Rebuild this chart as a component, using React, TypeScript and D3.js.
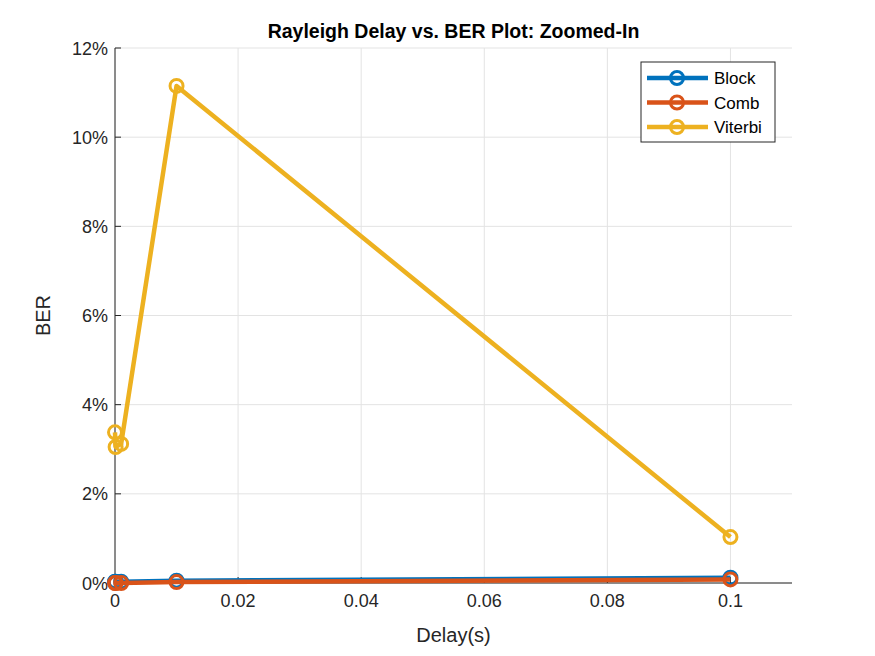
import React from "react";
import * as d3 from "d3";

const delays = [0, 0.0001, 0.001, 0.01, 0.1];
const blockBER = [0.03, 0.03, 0.03, 0.05, 0.12];
const combBER = [0.0, 0.0, 0.0, 0.02, 0.08];
const viterbiBER = [3.38, 3.05, 3.12, 11.15, 1.03];
const xTicks = [0, 0.02, 0.04, 0.06, 0.08, 0.1];
const yTicks = [0, 2, 4, 6, 8, 10, 12];
const series = [
  { name: "Block", values: blockBER, color: "#0072BD" },
  { name: "Comb", values: combBER, color: "#D95319" },
  { name: "Viterbi", values: viterbiBER, color: "#EDB120" },
];

export default function App() {
  const W = 875, H = 656;
  const L = 115, R = 792, T = 48, B = 583;
  const x = d3.scaleLinear().domain([0, 0.11]).range([L, R]);
  const y = d3.scaleLinear().domain([0, 12]).range([B, T]);
  const line = d3.line<number>().x((_, i) => x(delays[i])).y((v) => y(v));
  const font = "Liberation Sans, Arial, sans-serif";
  return (
    <svg width={W} height={H} style={{ position: "absolute", left: 0, top: 0, background: "#fff" }} fontFamily={font}>
      {xTicks.map((t) => (
        <line key={"gx" + t} x1={x(t)} x2={x(t)} y1={T} y2={B} stroke="#e3e3e3" strokeWidth={1} />
      ))}
      {yTicks.map((t) => (
        <line key={"gy" + t} x1={L} x2={R} y1={y(t)} y2={y(t)} stroke="#e3e3e3" strokeWidth={1} />
      ))}
      <line x1={L} x2={R} y1={B} y2={B} stroke="#262626" />
      <line x1={L} x2={L} y1={T} y2={B} stroke="#262626" />
      {xTicks.map((t) => (
        <g key={"tx" + t}>
          <line x1={x(t)} x2={x(t)} y1={B} y2={B - 6} stroke="#262626" />
          <text x={x(t)} y={B + 24} textAnchor="middle" fontSize={18} fill="#262626">{t === 0 ? "0" : String(t)}</text>
        </g>
      ))}
      {yTicks.map((t) => (
        <g key={"ty" + t}>
          <line x1={L} x2={L + 6} y1={y(t)} y2={y(t)} stroke="#262626" />
          <text x={L - 7} y={y(t) + 6.5} textAnchor="end" fontSize={18} fill="#262626">{t + "%"}</text>
        </g>
      ))}
      <text x={(L + R) / 2} y={642} textAnchor="middle" fontSize={20} fill="#262626">Delay(s)</text>
      <text transform={`translate(50,${(T + B) / 2}) rotate(-90)`} textAnchor="middle" fontSize={20} fill="#262626">BER</text>
      <text x={(L + R) / 2} y={38} textAnchor="middle" fontSize={19.5} fontWeight="bold" fill="#000">Rayleigh Delay vs. BER Plot: Zoomed-In</text>
      {series.map((s) => (
        <g key={s.name}>
          <path d={line(s.values) || ""} fill="none" stroke={s.color} strokeWidth={4.5} strokeLinejoin="round" />
          {s.values.map((v, i) => (
            <circle key={i} cx={x(delays[i])} cy={y(v)} r={6.5} fill="none" stroke={s.color} strokeWidth={3} />
          ))}
        </g>
      ))}
      <rect x={641} y={62} width={134} height={80} fill="#fff" stroke="#262626" strokeWidth={1} />
      {series.map((s, i) => {
        const cy = 78 + i * 24.5;
        return (
          <g key={"lg" + s.name}>
            <line x1={647} x2={708} y1={cy} y2={cy} stroke={s.color} strokeWidth={4.5} />
            <circle cx={677} cy={cy} r={6.5} fill="none" stroke={s.color} strokeWidth={3} />
            <text x={714} y={cy + 6} fontSize={17} fill="#000">{s.name}</text>
          </g>
        );
      })}
    </svg>
  );
}
